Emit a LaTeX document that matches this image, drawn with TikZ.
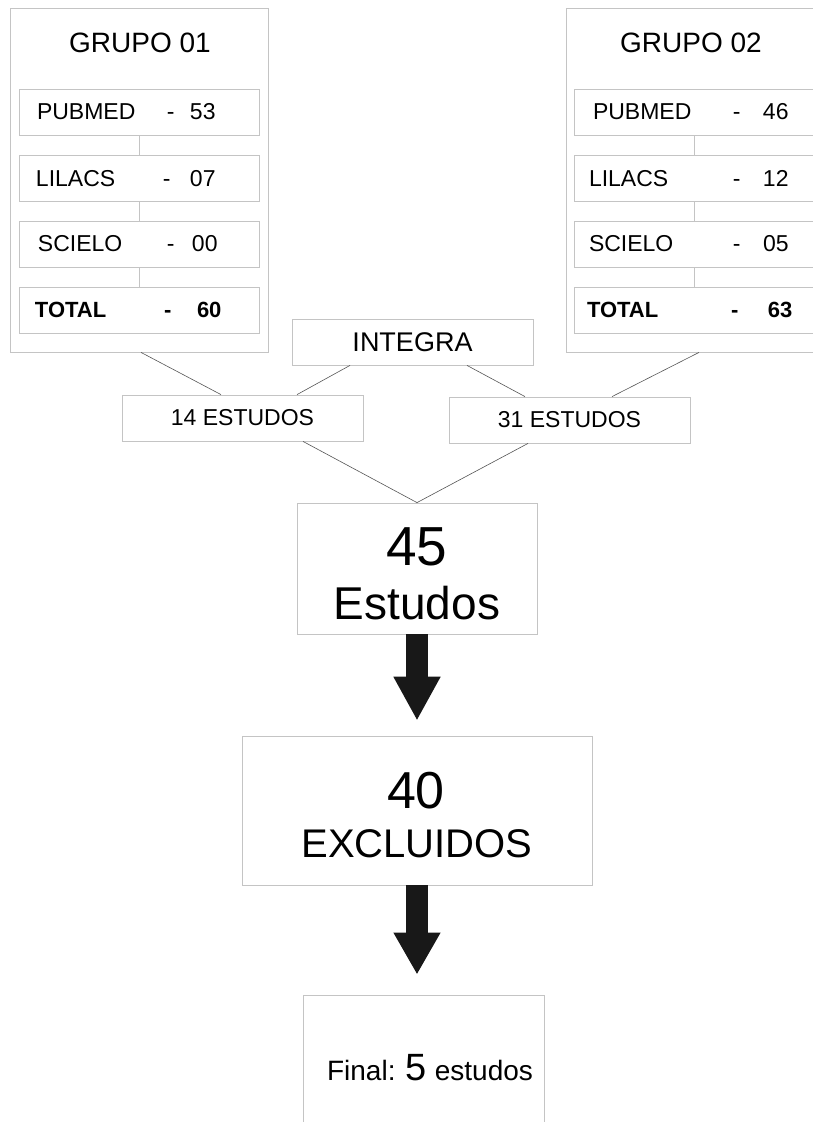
\documentclass[tikz,border=0pt]{standalone}
\usepackage{fontspec}
\setmainfont{Liberation Sans}
\usetikzlibrary{arrows.meta}

\definecolor{boxgray}{RGB}{196,196,196}
\definecolor{linegray}{RGB}{85,85,85}
\definecolor{arrowblack}{RGB}{24,24,24}

\newcommand{\fsz}[1]{\fontsize{#1}{#1}\selectfont}
% label start, label, dash start, number start, number (pt from the left side)
\newcommand{\rowtext}[5]{\hspace*{#1pt}\makebox[\dimexpr#3pt-#1pt\relax][l]{#2}\makebox[\dimexpr#4pt-#3pt\relax][l]{-}#5}

\begin{document}
\begin{tikzpicture}[x=1pt,y=-1pt,
	box/.style={draw=boxgray,line width=0.8pt,inner sep=0pt},
	row/.style={box,minimum width=240pt,minimum height=46pt,text width=240pt,align=left,font=\fsz{23}},
	link/.style={draw=linegray,line width=0.6pt},
	block/.style={draw=arrowblack,line width=22pt,-{Triangle[width=44pt,length=44pt]}}]
	\useasboundingbox (0,0) rectangle (813,1122);
	\clip (0,0) rectangle (813,1122);
	
	%Grupo 01
	\node[box,minimum width=258pt,minimum height=344pt] (g1) at (139,180) {};
	\node[font=\fsz{28},anchor=base] (t1) at (140,52) {GRUPO 01};
	\node[row] (p1) at (139,112) {\rowtext{18}{PUBMED}{148}{171}{53}};
	\node[row] (l1) at (139,178.5) {\rowtext{17}{LILACS}{144}{171}{07}};
	\node[row] (s1) at (139,244) {\rowtext{19}{SCIELO}{148}{173}{00}};
	\node[row,font=\fsz{22}\bfseries] (tot1) at (139,310) {\rowtext{16}{TOTAL}{145}{178}{60}};
	\draw[box] (p1) -- (l1);
	\draw[box] (l1) -- (s1);
	\draw[box] (s1) -- (tot1);
	
	%Grupo 02
	\node[box,minimum width=258pt,minimum height=344pt] (g2) at (695,180) {};
	\node[font=\fsz{28},anchor=base] (t2) at (691,52) {GRUPO 02};
	\node[row] (p2) at (694,112) {\rowtext{19}{PUBMED}{159}{189}{46}};
	\node[row] (l2) at (694,178.5) {\rowtext{15}{LILACS}{159}{189}{12}};
	\node[row] (s2) at (694,244) {\rowtext{15}{SCIELO}{159}{189}{05}};
	\node[row,font=\fsz{22}\bfseries] (tot2) at (694,310) {\rowtext{13}{TOTAL}{157}{194}{63}};
	\draw[box] (p2) -- (l2);
	\draw[box] (l2) -- (s2);
	\draw[box] (s2) -- (tot2);
	
	%Integra e estudos
	\node[box,minimum width=241pt,minimum height=46pt,font=\fsz{27}] (integ) at (412.5,342) {INTEGRA};
	\node[box,minimum width=241pt,minimum height=46pt,font=\fsz{23}] (e14) at (242.5,418) {14 ESTUDOS};
	\node[box,minimum width=241pt,minimum height=46pt,font=\fsz{23}] (e31) at (569.5,420) {31 ESTUDOS};
	
	\draw[link] ([xshift=2pt]g1.south) -- ([xshift=-21.5pt]e14.north);
	\draw[link] ([xshift=-62.5pt]integ.south) -- ([xshift=54.5pt]e14.north);
	\draw[link] ([xshift=54.5pt]integ.south) -- ([xshift=-44.5pt]e31.north);
	\draw[link] ([xshift=4pt]g2.south) -- ([xshift=42.5pt]e31.north);
	
	%45 estudos
	\node[box,minimum width=240pt,minimum height=131pt] (n45) at (417,568.5) {};
	\node[font=\fsz{55},anchor=base] (n45a) at (417,565) {45};
	\node[font=\fsz{46},anchor=base] (n45b) at (417,619) {Estudos};
	\draw[link] ([xshift=60.5pt]e14.south) -- (n45.north);
	\draw[link] ([xshift=-41.5pt]e31.south) -- (n45.north);
	
	%40 excluidos
	\node[box,minimum width=350pt,minimum height=149pt] (exc) at (417,810.5) {};
	\node[font=\fsz{52},anchor=base] (exca) at (416,808) {40};
	\node[font=\fsz{40},anchor=base] (excb) at (417,857) {EXCLUIDOS};
	
	%Final
	\node[box,minimum width=241pt,minimum height=150pt] (fin) at (423.5,1070) {};
	\node[font=\fsz{28},anchor=base] (fina) at (430,1080) {Final: {\fsz{38}5} estudos};
	
	\draw[block,shorten >=15pt] (n45.south) -- (exc.north);
	\draw[block,-{Triangle[width=44pt,length=42pt]},shorten >=20pt] (exc.south) -- (exc.south |- fin.north);
	
\end{tikzpicture}
\end{document}
